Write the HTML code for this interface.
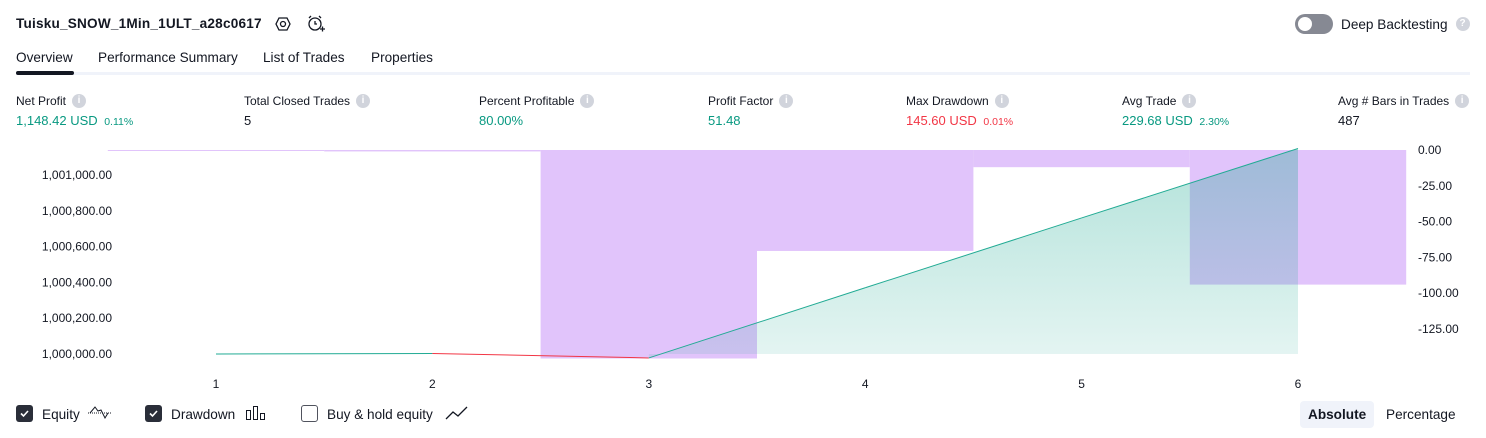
<!DOCTYPE html>
<html><head><meta charset="utf-8">
<style>
*{box-sizing:border-box;margin:0;padding:0}
body{width:1486px;height:438px;background:#fff;font-family:"Liberation Sans",sans-serif;color:#131722;position:relative;overflow:hidden}
.a{position:absolute;white-space:nowrap}
.t{font-size:13.6px}
.lab{font-size:12px;color:#131722;line-height:14px}
.val{font-size:13px}
.g{color:#089981}.r{color:#f23645}
.sm{font-size:10.5px}
.info{display:inline-block;width:14px;height:14px;border-radius:50%;background:#d1d4dc;color:#fff;font-size:10px;text-align:center;line-height:14px;vertical-align:top;margin-left:6px;font-weight:bold}
.cb{position:absolute;width:17px;height:17px;border-radius:3px}
</style></head><body>
<div class="a" style="left:16px;top:16px;font-size:13.6px;font-weight:bold;letter-spacing:0.2px">Tuisku_SNOW_1Min_1ULT_a28c0617</div>
<svg class="a" style="left:274px;top:15px" width="18" height="18" viewBox="0 0 18 18"><polygon points="5,3 13,3 16,9 13,15 5,15 2,9" fill="none" stroke="#131722" stroke-width="1.3"/><circle cx="9" cy="9" r="2.5" fill="none" stroke="#131722" stroke-width="1.3"/></svg>
<svg class="a" style="left:306px;top:14px" width="20" height="20" viewBox="0 0 20 20"><circle cx="9" cy="10" r="6" fill="none" stroke="#131722" stroke-width="1.3"/><path d="M9 7v3h2M3 4l2-2M15 4l-2-2M14 15h5M16.5 12.5v5" stroke="#131722" stroke-width="1.3" fill="none"/></svg>
<div class="a" style="left:1295px;top:14px;width:38px;height:20px;border-radius:10px;background:#868993"><div style="position:absolute;left:3px;top:3px;width:14px;height:14px;border-radius:50%;background:#fff"></div></div>
<div class="a t" style="left:1341px;top:17px">Deep Backtesting<span class="info" style="margin-left:8px">?</span></div>
<div class="a t" style="left:16px;top:50px">Overview</div>
<div class="a t" style="left:98px;top:50px">Performance Summary</div>
<div class="a t" style="left:263px;top:50px">List of Trades</div>
<div class="a t" style="left:371px;top:50px">Properties</div>
<div class="a" style="left:16px;top:72px;width:1454px;height:3px;background:#f0f3fa"></div>
<div class="a" style="left:16px;top:71px;width:58px;height:4px;border-radius:2px;background:#131722"></div>

<div class="a lab" style="left:16px;top:94px">Net Profit<span class="info">i</span></div>
<div class="a val g" style="left:16px;top:113px">1,148.42 USD <span class="sm">&nbsp;0.11%</span></div>
<div class="a lab" style="left:244px;top:94px">Total Closed Trades<span class="info">i</span></div>
<div class="a val" style="left:244px;top:113px">5</div>
<div class="a lab" style="left:479px;top:94px">Percent Profitable<span class="info">i</span></div>
<div class="a val g" style="left:479px;top:113px">80.00%</div>
<div class="a lab" style="left:708px;top:94px">Profit Factor<span class="info">i</span></div>
<div class="a val g" style="left:708px;top:113px">51.48</div>
<div class="a lab" style="left:906px;top:94px">Max Drawdown<span class="info">i</span></div>
<div class="a val r" style="left:906px;top:113px">145.60 USD <span class="sm">&nbsp;0.01%</span></div>
<div class="a lab" style="left:1122px;top:94px">Avg Trade<span class="info">i</span></div>
<div class="a val g" style="left:1122px;top:113px">229.68 USD <span class="sm">&nbsp;2.30%</span></div>
<div class="a lab" style="left:1338px;top:94px">Avg # Bars in Trades<span class="info">i</span></div>
<div class="a val" style="left:1338px;top:113px">487</div>

<svg id="chart" class="a" style="left:0;top:140px" width="1486" height="250"></svg>

<div class="cb" style="left:16px;top:405px;background:#2a2e39"><svg width="17" height="17"><path d="M5 8.5l2.5 2.5 4.5-5" stroke="#fff" stroke-width="1.6" fill="none"/></svg></div>
<div class="a t" style="left:42px;top:407px">Equity</div>
<svg class="a" style="left:87px;top:403px" width="26" height="18"><path d="M1 10h24" stroke="#131722" stroke-dasharray="1 1"/><path d="M3 10l5-6 3 4 3-1 4 8 3-5" stroke="#131722" fill="none"/></svg>
<div class="cb" style="left:145px;top:405px;background:#2a2e39"><svg width="17" height="17"><path d="M5 8.5l2.5 2.5 4.5-5" stroke="#fff" stroke-width="1.6" fill="none"/></svg></div>
<div class="a t" style="left:171px;top:407px">Drawdown</div>
<svg class="a" style="left:245px;top:405px" width="22" height="16"><rect x="1.5" y="5.5" width="4" height="9" fill="none" stroke="#131722"/><rect x="8.5" y="1.5" width="4" height="13" fill="none" stroke="#131722"/><rect x="15.5" y="8.5" width="4" height="6" fill="none" stroke="#131722"/></svg>
<div class="cb" style="left:301px;top:405px;border:1px solid #50535e;background:#fff"></div>
<div class="a t" style="left:327px;top:407px">Buy &amp; hold equity</div>
<svg class="a" style="left:445px;top:405px" width="24" height="16"><path d="M1 14l7-7 5 4 9-9" stroke="#131722" fill="none" stroke-width="1.3"/></svg>
<div class="a t" style="left:1300px;top:401px;padding:6px 8px;background:#f0f3fa;border-radius:4px;font-weight:bold">Absolute</div>
<div class="a t" style="left:1386px;top:407px">Percentage</div>

<script>
const trades = [1,2,3,4,5,6];
const equity = [1000000, 1000003, 999978, 1000370, 1000760, 1001148];
const drawdown = [-0.5, -1, -145.6, -70.5, -12, -94];
const leftTicks = [1000000,1000200,1000400,1000600,1000800,1001000];
const leftTickLabels = ["1,000,000.00","1,000,200.00","1,000,400.00","1,000,600.00","1,000,800.00","1,001,000.00"];
const rightTicks = [0,-25,-50,-75,-100,-125];
const rightTickLabels = ["0.00","-25.00","-50.00","-75.00","-100.00","-125.00"];
const baseEquity = 1000000;

const NS="http://www.w3.org/2000/svg";
const svg=document.getElementById('chart');
const step=216.4, x0=216;
const xS=i=>x0+(i-1)*step;
const yL=v=>214-(v-1000000)*0.179;
const yR=v=>10-v*1.432;
function mk(t,a){const e=document.createElementNS(NS,t);for(const k in a)e.setAttribute(k,a[k]);svg.appendChild(e);return e;}

const defs=mk('defs',{});
defs.innerHTML='<linearGradient id="gf" x1="0" y1="0" x2="0" y2="1"><stop offset="0" stop-color="#22ab94" stop-opacity="0.35"/><stop offset="1" stop-color="#22ab94" stop-opacity="0.12"/></linearGradient>';

drawdown.forEach((d,i)=>{
  const x=xS(trades[i])-step/2;
  const r=mk('rect',{x:x,y:yR(0),width:step,height:Math.max(1,yR(d)-yR(0)),fill:'#e1c4fb'});
  
  
});

let pts=[];
for(let i=0;i<equity.length;i++){pts.push([xS(trades[i]),yL(equity[i])]);}
let area='M'+pts[2][0]+','+yL(baseEquity);
for(let i=2;i<pts.length;i++) area+=' L'+pts[i][0]+','+pts[i][1];
area+=' L'+pts[pts.length-1][0]+','+yL(baseEquity)+' Z';
const ar=mk('path',{d:area,fill:'url(#gf)'});



for(let i=0;i<pts.length-1;i++){
  const below=equity[i+1]<baseEquity;
  const l=mk('line',{x1:pts[i][0],y1:pts[i][1],x2:pts[i+1][0],y2:pts[i+1][1],stroke:below?'#f23645':'#22ab94','stroke-width':1});
  
  
}

leftTicks.forEach((v,i)=>{
  const t=mk('text',{x:112,y:yL(v)+4,'text-anchor':'end','font-size':12,fill:'#131722','font-family':'Liberation Sans, sans-serif'});
  t.textContent=leftTickLabels[i];
  
  
});
rightTicks.forEach((v,i)=>{
  const t=mk('text',{x:1418,y:yR(v)+4,'font-size':12,fill:'#131722','font-family':'Liberation Sans, sans-serif'});
  t.textContent=rightTickLabels[i];
  
  
});
trades.forEach(n=>{
  const t=mk('text',{x:xS(n),y:248,'text-anchor':'middle','font-size':12,fill:'#131722','font-family':'Liberation Sans, sans-serif'});
  t.textContent=n;
  
  
});
</script>
</body></html>
